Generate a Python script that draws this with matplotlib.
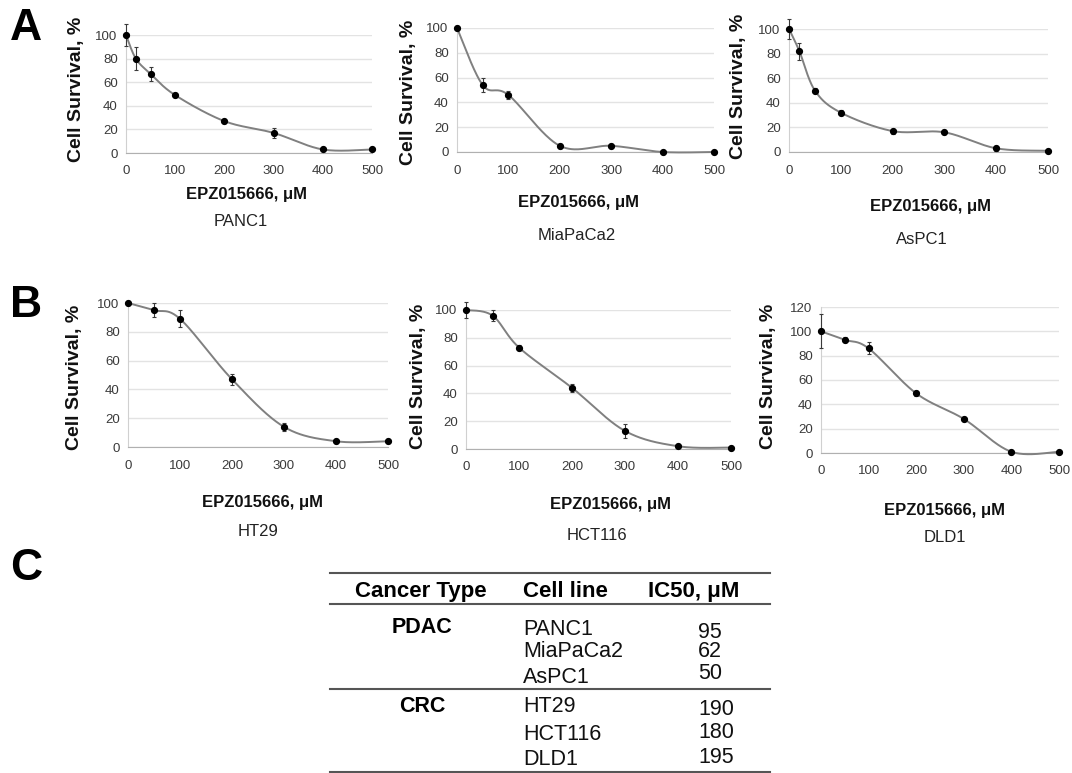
import numpy as np
import matplotlib
matplotlib.use('Agg')
import matplotlib.pyplot as plt

plt.rcParams['font.family'] = ['Liberation Sans', 'DejaVu Sans']

W, H = 1072, 773

# ---------------- data ----------------
conc_a = [0, 20, 50, 100, 200, 300, 400, 500]
conc_mia = [0, 50, 100, 200, 300, 400, 500]
conc_b = [0, 50, 100, 200, 300, 400, 500]

panc1 = [100, 80, 67, 49, 27, 17, 3, 3]
panc1_err = [9, 10, 6, 1.5, 1.5, 4, 1, 0.5]
miapaca2 = [100, 54, 46, 5, 5, 0, 0]
miapaca2_err = [1.5, 6, 3, 1.5, 1, 0.5, 0.5]
aspc1 = [100, 82, 50, 32, 17, 16, 3, 1]
aspc1_err = [8, 7, 2, 2, 2, 1.5, 2, 0.5]
ht29 = [100, 95, 89, 47, 14, 4, 4]
ht29_err = [1.5, 5, 6, 4, 3, 1, 1]
hct116 = [100, 96, 73, 44, 13, 2, 1]
hct116_err = [6, 4, 2, 3, 5, 1, 0.5]
dld1 = [100, 93, 86, 49, 28, 1, 1]
dld1_err = [14, 2, 5, 2, 2, 1.5, 1.5]

x_ticks = [0, 100, 200, 300, 400, 500]
x_label = 'EPZ015666, μM'
y_label = 'Cell Survival, %'

table_header = ['Cancer Type', 'Cell line', 'IC50, μM']
cancer_types = ['PDAC', 'CRC']
cell_lines = ['PANC1', 'MiaPaCa2', 'AsPC1', 'HT29', 'HCT116', 'DLD1']
ic50 = [95, 62, 50, 190, 180, 195]


def excel_smooth(x, y, sx, sy, n=40):
    P = np.column_stack([np.asarray(x, float) * sx, np.asarray(y, float) * sy])
    out = []
    for i in range(len(P) - 1):
        p0 = P[i - 1] if i > 0 else P[i]
        p1, p2 = P[i], P[i + 1]
        p3 = P[i + 2] if i + 2 < len(P) else P[i + 1]
        c1 = p1 + (p2 - p0) / 6.0
        c2 = p2 - (p3 - p1) / 6.0
        t = np.linspace(0, 1, n)[:, None]
        seg = (1 - t) ** 3 * p1 + 3 * (1 - t) ** 2 * t * c1 + 3 * (1 - t) * t ** 2 * c2 + t ** 3 * p2
        out.append(seg if i == 0 else seg[1:])
    arr = np.vstack(out)
    return arr[:, 0] / sx, arr[:, 1] / sy


fig = plt.figure(figsize=(W / 100, H / 100), dpi=100)


def fx(px):
    return px / W


def fy(py):
    return 1 - py / H


panels = [
    # name, x, y, err, ymax, (left, right, bottom, top), ylabel(x,y), xlabel(x,y), name(x,y)
    ('PANC1', conc_a, panc1, panc1_err, 100, (126, 372, 153, 35), (77, 89), (246, 195), (241, 222)),
    ('MiaPaCa2', conc_mia, miapaca2, miapaca2_err, 100, (457, 714, 152, 28), (409, 92), (578, 203), (577, 235)),
    ('AsPC1', conc_a, aspc1, aspc1_err, 100, (789, 1048, 152, 29), (738, 86), (931, 206), (922, 240)),
    ('HT29', conc_b, ht29, ht29_err, 100, (128, 388, 447, 303), (75, 377), (263, 503), (258, 532)),
    ('HCT116', conc_b, hct116, hct116_err, 100, (466, 731, 449, 310), (419, 376), (610, 505), (597, 535)),
    ('DLD1', conc_b, dld1, dld1_err, 120, (821, 1059, 453, 307), (769, 376), (944, 510), (945, 538)),
]

for name, xs, ys, es, ymax, box, ylp, xlp, nmp in panels:
    l, r, b, t = box
    ax = fig.add_axes([fx(l), fy(b), (r - l) / W, (b - t) / H])
    ax.set_xlim(0, 500)
    ax.set_ylim(0, ymax)
    ax.set_xticks(x_ticks)
    ax.set_yticks(np.arange(0, ymax + 1, 20))
    ax.grid(axis='y', color='#e3e3e3', linewidth=1.0)
    ax.set_axisbelow(True)
    for s in ['top', 'right']:
        ax.spines[s].set_visible(False)
    ax.spines['left'].set_color('#d0d0d0')
    ax.spines['bottom'].set_color('#b0b0b0')
    ax.tick_params(length=0, labelsize=9.5, labelcolor='#3a3a3a')
    ax.tick_params(axis='x', pad=9)
    ax.tick_params(axis='y', pad=6)
    sxv = (r - l) / 500.0
    syv = (b - t) / float(ymax)
    cx, cy = excel_smooth(xs, ys, sxv, syv)
    ax.plot(cx, cy, color='#808080', lw=1.4, clip_on=False, zorder=3)
    ax.errorbar(xs, ys, yerr=es, fmt='none', ecolor='#3a3a3a', elinewidth=0.8,
                capsize=1.5, capthick=0.8, clip_on=False, zorder=4)
    ax.plot(xs, ys, 'o', color='black', ms=4.2, clip_on=False, zorder=5)
    fig.text(fx(ylp[0]), fy(ylp[1]), y_label, rotation=90, ha='center', va='center',
             fontsize=14, fontweight='bold', color='#111111')
    fig.text(fx(xlp[0]), fy(xlp[1]), x_label, ha='center', va='center',
             fontsize=12, fontweight='bold', color='#111111')
    fig.text(fx(nmp[0]), fy(nmp[1]), name, ha='center', va='center',
             fontsize=12, color='#222222')

# panel letters
for letter, (px, py) in zip(['A', 'B', 'C'], [(26, 29), (26, 306), (26, 569)]):
    fig.text(fx(px), fy(py), letter, ha='center', va='center', fontsize=32, fontweight='bold')

# ---------------- table (C) ----------------
tab_left, tab_right = 330, 770
line_y = [573, 604, 689, 772]
for yy in line_y:
    fig.add_artist(plt.Line2D([fx(tab_left), fx(tab_right)], [fy(yy), fy(yy)],
                              color='#555555', lw=1.5))

fs_tab = 15.5
hdr_base = 597
fig.text(fx(421), fy(hdr_base), table_header[0], ha='center', va='baseline', fontsize=fs_tab + 0.5, fontweight='bold')
fig.text(fx(523), fy(hdr_base), table_header[1], ha='left', va='baseline', fontsize=fs_tab + 0.5, fontweight='bold')
fig.text(fx(648), fy(hdr_base), table_header[2], ha='left', va='baseline', fontsize=fs_tab + 0.5, fontweight='bold')

fig.text(fx(422), fy(633), cancer_types[0], ha='center', va='baseline', fontsize=fs_tab, fontweight='bold')
fig.text(fx(422), fy(712), cancer_types[1], ha='center', va='baseline', fontsize=fs_tab, fontweight='bold')

cell_base = [635, 657, 683, 712, 740, 765]
val_base = [638, 657, 679, 715, 738, 763]
for cl, v, cb, vb in zip(cell_lines, ic50, cell_base, val_base):
    fig.text(fx(523), fy(cb), cl, ha='left', va='baseline', fontsize=fs_tab, color='#111111')
    fig.text(fx(698), fy(vb), str(v), ha='left', va='baseline', fontsize=fs_tab, color='#111111')

fig.savefig('out.png', dpi=100, facecolor='white')
